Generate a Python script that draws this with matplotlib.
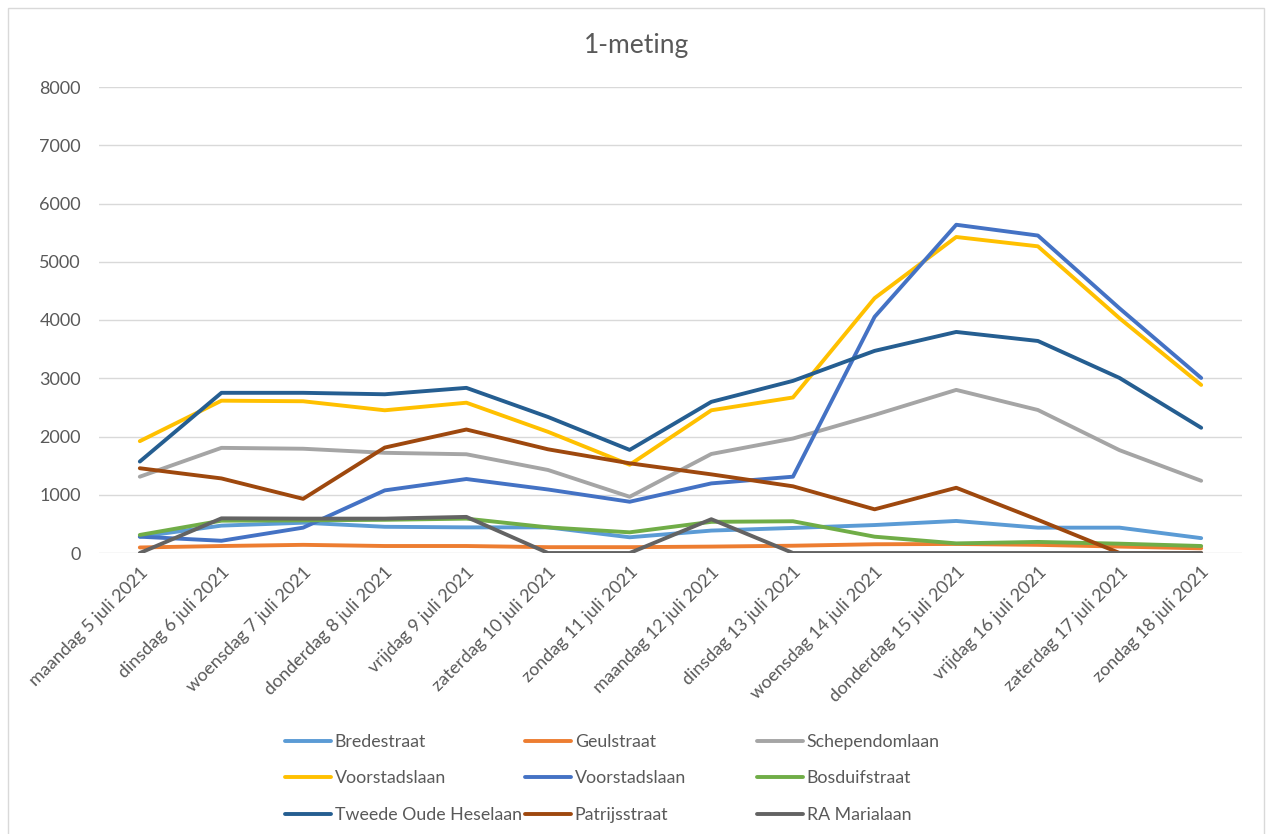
import matplotlib
matplotlib.use("Agg")
import matplotlib.pyplot as plt
from matplotlib.patches import Rectangle

plt.rcParams['font.family'] = ['Lato', 'DejaVu Sans']

# categories (x axis)
dates = ["maandag 5 juli 2021", "dinsdag 6 juli 2021", "woensdag 7 juli 2021",
         "donderdag 8 juli 2021", "vrijdag 9 juli 2021", "zaterdag 10 juli 2021",
         "zondag 11 juli 2021", "maandag 12 juli 2021", "dinsdag 13 juli 2021",
         "woensdag 14 juli 2021", "donderdag 15 juli 2021", "vrijdag 16 juli 2021",
         "zaterdag 17 juli 2021", "zondag 18 juli 2021"]

# series values
bredestraat = [280, 470, 520, 450, 440, 440, 270, 385, 430, 480, 550, 435, 435, 255]
geulstraat = [95, 120, 140, 120, 120, 100, 100, 110, 125, 150, 155, 140, 110, 80]
schependomlaan = [1310, 1805, 1790, 1720, 1695, 1425, 965, 1700, 1965, 2370, 2800, 2455, 1765, 1240]
voorstadslaan_1 = [1920, 2615, 2605, 2450, 2580, 2080, 1515, 2450, 2670, 4375, 5425, 5265, 4030, 2885]
voorstadslaan_2 = [280, 210, 435, 1075, 1270, 1090, 880, 1195, 1310, 4055, 5635, 5450, 4200, 3005]
bosduifstraat = [310, 555, 560, 570, 590, 440, 355, 535, 545, 280, 165, 190, 160, 120]
tweede_oude = [1570, 2750, 2750, 2725, 2835, 2335, 1770, 2595, 2955, 3470, 3795, 3640, 3005, 2150]
patrijsstraat = [1455, 1280, 930, 1810, 2120, 1780, 1540, 1350, 1145, 750, 1120, 570, 0, 0]
ra_marialaan = [0, 595, 590, 590, 620, 0, 0, 580, 0, 0, 0, 0, 0, 0]

names = ["Bredestraat", "Geulstraat", "Schependomlaan",
         "Voorstadslaan", "Voorstadslaan", "Bosduifstraat",
         "Tweede Oude Heselaan", "Patrijsstraat", "RA Marialaan"]
series = [bredestraat, geulstraat, schependomlaan,
          voorstadslaan_1, voorstadslaan_2, bosduifstraat,
          tweede_oude, patrijsstraat, ra_marialaan]
colors = ["#5B9BD5", "#ED7D31", "#A5A5A5",
          "#FFC000", "#4472C4", "#70AD47",
          "#255E91", "#9E480E", "#636363"]

W, H = 1266, 834
fig = plt.figure(figsize=(W / 100, H / 100), dpi=100)
ax = fig.add_axes([99 / W, 1 - 553 / H, (1242 - 99) / W, (553 - 87) / H])

x = list(range(len(dates)))
handles = []
for vals, name, c in zip(series, names, colors):
    ln, = ax.plot(x, vals, color=c, lw=2.8, label=name,
                  solid_capstyle='round', solid_joinstyle='round')
    handles.append(ln)

ax.set_xlim(-0.5, len(dates) - 0.5)
ax.set_ylim(0, 8000)
ax.set_yticks(range(0, 8001, 1000))
ax.grid(axis='y', color='#D9D9D9', lw=1)
ax.set_axisbelow(True)
for s in ax.spines.values():
    s.set_visible(False)
ax.tick_params(length=0, colors='#595959', labelsize=13)
ax.tick_params(axis='y', pad=13)
ax.set_xticks(x)
ax.set_xticklabels(dates, rotation=45, ha='right', va='top', rotation_mode='anchor')
ax.tick_params(axis='x', pad=8)

fig.text(637 / W, 1 - 45 / H, "1-meting", ha='center', va='center',
         fontsize=19, color='#595959')

# legend: three columns of equal width, like Excel
col_x = [285, 525, 757]
for i, cx in enumerate(col_x):
    hs = [handles[i], handles[i + 3], handles[i + 6]]
    fig.legend(hs, [h.get_label() for h in hs], loc='upper left',
               bbox_to_anchor=(cx / W, 1 - 734 / H), frameon=False,
               fontsize=12.8, labelcolor='#595959', handlelength=2.6,
               handletextpad=0.2, labelspacing=1.15, borderpad=0, borderaxespad=0)

fig.patches.append(Rectangle((8 / W, -0.05), (1264 - 8) / W, 1.05 - 8 / H,
                             transform=fig.transFigure, fill=False,
                             edgecolor='#D9D9D9', lw=1))

fig.savefig("out.png", dpi=100)
